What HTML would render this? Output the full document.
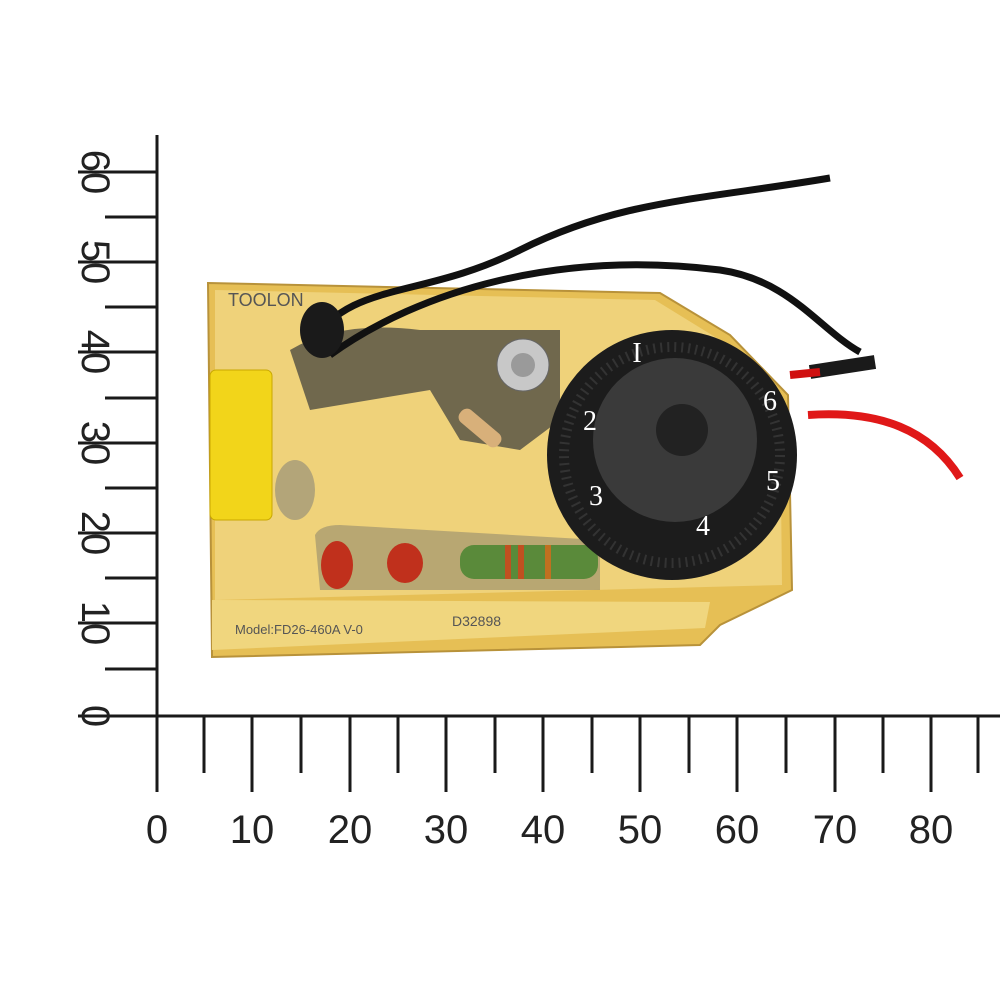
<!DOCTYPE html>
<html><head><style>body{margin:0;background:#fff}svg{display:block}</style></head><body>
<svg width="1000" height="1000" viewBox="0 0 1000 1000" xmlns="http://www.w3.org/2000/svg" font-family="Liberation Sans, sans-serif">
<rect width="1000" height="1000" fill="#fff"/>
<g stroke="#1a1a1a" stroke-width="3">
<line x1="157" y1="135" x2="157" y2="792"/>
<line x1="78" y1="716" x2="1000" y2="716"/>
<line x1="204" y1="716" x2="204" y2="773"/><line x1="252" y1="716" x2="252" y2="792"/>
<line x1="301" y1="716" x2="301" y2="773"/><line x1="350" y1="716" x2="350" y2="792"/>
<line x1="398" y1="716" x2="398" y2="773"/><line x1="446" y1="716" x2="446" y2="792"/>
<line x1="495" y1="716" x2="495" y2="773"/><line x1="543" y1="716" x2="543" y2="792"/>
<line x1="592" y1="716" x2="592" y2="773"/><line x1="640" y1="716" x2="640" y2="792"/>
<line x1="689" y1="716" x2="689" y2="773"/><line x1="737" y1="716" x2="737" y2="792"/>
<line x1="786" y1="716" x2="786" y2="773"/><line x1="835" y1="716" x2="835" y2="792"/>
<line x1="883" y1="716" x2="883" y2="773"/><line x1="931" y1="716" x2="931" y2="792"/>
<line x1="978" y1="716" x2="978" y2="773"/>
<line x1="105" y1="669" x2="157" y2="669"/><line x1="78" y1="623" x2="157" y2="623"/>
<line x1="105" y1="578" x2="157" y2="578"/><line x1="78" y1="533" x2="157" y2="533"/>
<line x1="105" y1="488" x2="157" y2="488"/><line x1="78" y1="443" x2="157" y2="443"/>
<line x1="105" y1="398" x2="157" y2="398"/><line x1="78" y1="352" x2="157" y2="352"/>
<line x1="105" y1="307" x2="157" y2="307"/><line x1="78" y1="262" x2="157" y2="262"/>
<line x1="105" y1="217" x2="157" y2="217"/><line x1="78" y1="172" x2="157" y2="172"/>
</g>
<g font-size="40" fill="#222" text-anchor="middle">
<text x="157" y="843">0</text><text x="252" y="843">10</text><text x="350" y="843">20</text>
<text x="446" y="843">30</text><text x="543" y="843">40</text><text x="640" y="843">50</text>
<text x="737" y="843">60</text><text x="835" y="843">70</text><text x="931" y="843">80</text>
</g>
<g font-size="40" fill="#222" text-anchor="middle">
<text transform="translate(82,716) rotate(90)">0</text>
<text transform="translate(82,623) rotate(90)">10</text>
<text transform="translate(82,533) rotate(90)">20</text>
<text transform="translate(82,443) rotate(90)">30</text>
<text transform="translate(82,352) rotate(90)">40</text>
<text transform="translate(82,262) rotate(90)">50</text>
<text transform="translate(82,172) rotate(90)">60</text>
</g>
<polygon points="208,283 660,293 730,335 788,395 792,590 720,625 700,645 212,657" fill="#e6bf55" stroke="#b8923a" stroke-width="2"/>
<polygon points="215,290 655,300 720,340 780,400 782,585 215,600" fill="#efd27a"/>
<polygon points="212,600 710,602 705,628 212,650" fill="#f0d67e"/>
<text x="228" y="306" font-size="18" fill="#555">TOOLON</text>
<text x="235" y="634" font-size="13" fill="#555">Model:FD26-460A  V-0</text>
<text x="452" y="626" font-size="14" fill="#555">D32898</text>
<rect x="210" y="370" width="62" height="150" rx="6" fill="#f2d51a" stroke="#c9a800"/>
<path d="M290,350 Q340,320 420,330 L560,330 L560,420 L520,450 L460,440 L430,390 L310,410 Z" fill="#3a3a3a" opacity="0.7"/>
<path d="M315,535 Q320,525 340,525 L600,540 L600,590 L320,590 Z" fill="#666" opacity="0.4"/>
<ellipse cx="295" cy="490" rx="20" ry="30" fill="#777" opacity="0.5"/>
<circle cx="523" cy="365" r="26" fill="#c8c8c8" stroke="#666"/>
<circle cx="523" cy="365" r="12" fill="#9a9a9a"/>
<rect x="455" y="420" width="50" height="16" rx="7" fill="#d8b07a" transform="rotate(40 480 428)"/>
<ellipse cx="337" cy="565" rx="16" ry="24" fill="#c0301c"/>
<ellipse cx="405" cy="563" rx="18" ry="20" fill="#c0301c"/>
<rect x="460" y="545" width="138" height="34" rx="14" fill="#5a8a3a"/>
<rect x="505" y="545" width="6" height="34" fill="#c05020"/><rect x="518" y="545" width="6" height="34" fill="#c05020"/><rect x="545" y="545" width="6" height="34" fill="#c07020"/>
<circle cx="672" cy="455" r="125" fill="#1c1c1c"/>
<circle cx="672" cy="455" r="108" fill="none" stroke="#333" stroke-width="10" stroke-dasharray="2 5"/>
<circle cx="675" cy="440" r="82" fill="#3a3a3a"/>
<circle cx="682" cy="430" r="26" fill="#222"/>
<g fill="#fff" font-family="Liberation Serif, serif" font-size="28" text-anchor="middle">
<text x="637" y="362">I</text><text x="590" y="430">2</text><text x="596" y="505">3</text>
<text x="703" y="535">4</text><text x="773" y="490">5</text><text x="770" y="410">6</text>
</g>
<path d="M310,345 C350,280 420,300 520,250 C620,200 700,200 830,178" stroke="#111" stroke-width="7" fill="none"/>
<path d="M330,355 C420,290 560,250 720,270 C790,280 820,330 860,352" stroke="#111" stroke-width="7" fill="none"/>
<ellipse cx="322" cy="330" rx="22" ry="28" fill="#1a1a1a"/>
<path d="M810,372 L875,362" stroke="#1a1a1a" stroke-width="14"/>
<path d="M790,375 L820,372" stroke="#d01010" stroke-width="8"/>
<path d="M808,415 C880,410 930,430 960,478" stroke="#e01818" stroke-width="8" fill="none"/>
</svg>
</body></html>
